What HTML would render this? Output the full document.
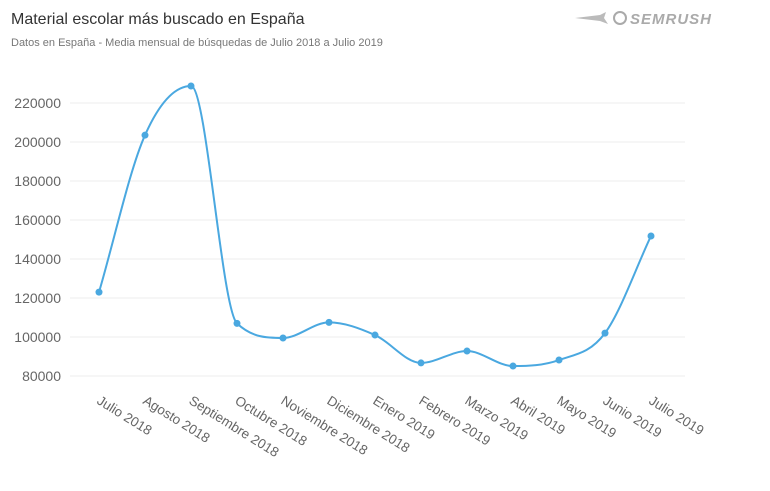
<!DOCTYPE html>
<html><head><meta charset="utf-8"><style>
body{margin:0;background:#fff;width:770px;height:486px;overflow:hidden;font-family:"Liberation Sans",sans-serif}
</style></head><body>
<svg width="770" height="486">
<text x="11" y="24" font-size="16" fill="#333">Material escolar más buscado en España</text>
<text x="11" y="46" font-size="11" fill="#777">Datos en España - Media mensual de búsquedas de Julio 2018 a Julio 2019</text>
<g>
<path d="M575 18 L600 15 L606 12 L604 18 L608 24 L600 21 Z" fill="#bbb"/>
<circle cx="620" cy="18" r="6" fill="none" stroke="#aaa" stroke-width="2"/>
<text x="630" y="24" font-size="15" font-style="italic" font-weight="bold" fill="#aaa" letter-spacing="1">SEMRUSH</text>
</g>
<g id="grid"></g><g id="yl"></g><g id="xl"></g>
<path id="line" fill="none" stroke="#4aa8e0" stroke-width="2"/>
<g id="pts"></g>
</svg>
<script>
const categories=["Julio 2018","Agosto 2018","Septiembre 2018","Octubre 2018","Noviembre 2018","Diciembre 2018","Enero 2019","Febrero 2019","Marzo 2019","Abril 2019","Mayo 2019","Junio 2019","Julio 2019"];
const values=[123000,203500,228700,107000,99500,107500,101000,86700,92800,85100,88200,102000,151800];
const yTicks=[80000,100000,120000,140000,160000,180000,200000,220000];
const NS="http://www.w3.org/2000/svg";
const xs=i=>99+i*46;
const ys=v=>376-(v-80000)*273/140000;
function mk(t,a,p){const e=document.createElementNS(NS,t);for(const k in a)e.setAttribute(k,a[k]);p.appendChild(e);return e;}
const g=document.getElementById('grid'),yl=document.getElementById('yl'),xl=document.getElementById('xl'),pts=document.getElementById('pts');
yTicks.forEach(v=>{
 const l=mk('line',{x1:70,x2:685,y1:ys(v),y2:ys(v),stroke:'#eee','stroke-width':1},g);
 
 
 const t=mk('text',{x:61,y:ys(v)+5,'text-anchor':'end','font-size':14,fill:'#666'},yl);
 t.textContent=v;
 
 
});
categories.forEach((c,i)=>{
 const x=xs(i)-3,y=403;
 const t=mk('text',{x:x,y:y,'font-size':13.5,fill:'#666',transform:`rotate(32 ${x} ${y})`},xl);
 t.textContent=c;
 
 
});
const P=values.map((v,i)=>[xs(i),ys(v)]);
// monotone cubic
const n=P.length,dx=46,sl=[],m=[];
for(let i=0;i<n-1;i++)sl.push((P[i+1][1]-P[i][1])/dx);
m[0]=sl[0];m[n-1]=sl[n-2];
for(let i=1;i<n-1;i++){m[i]=(sl[i-1]*sl[i]<=0)?0:(sl[i-1]+sl[i])/2;
 const a=m[i]/sl[i-1],b=m[i]/sl[i],s=a*a+b*b;if(s>9){const t=3/Math.sqrt(s);m[i]=t*(sl[i-1]+sl[i])/2;}}
let d=`M${P[0][0]},${P[0][1]}`;
for(let i=0;i<n-1;i++){
 const h=dx/3;
 d+=` C${P[i][0]+h},${P[i][1]+m[i]*h} ${P[i+1][0]-h},${P[i+1][1]-m[i+1]*h} ${P[i+1][0]},${P[i+1][1]}`;
}
document.getElementById('line').setAttribute('d',d);
P.forEach(p=>{
 const c=mk('circle',{cx:p[0],cy:p[1],r:3.5,fill:'#4aa8e0'},pts);
 
 
});
</script>
</body></html>
